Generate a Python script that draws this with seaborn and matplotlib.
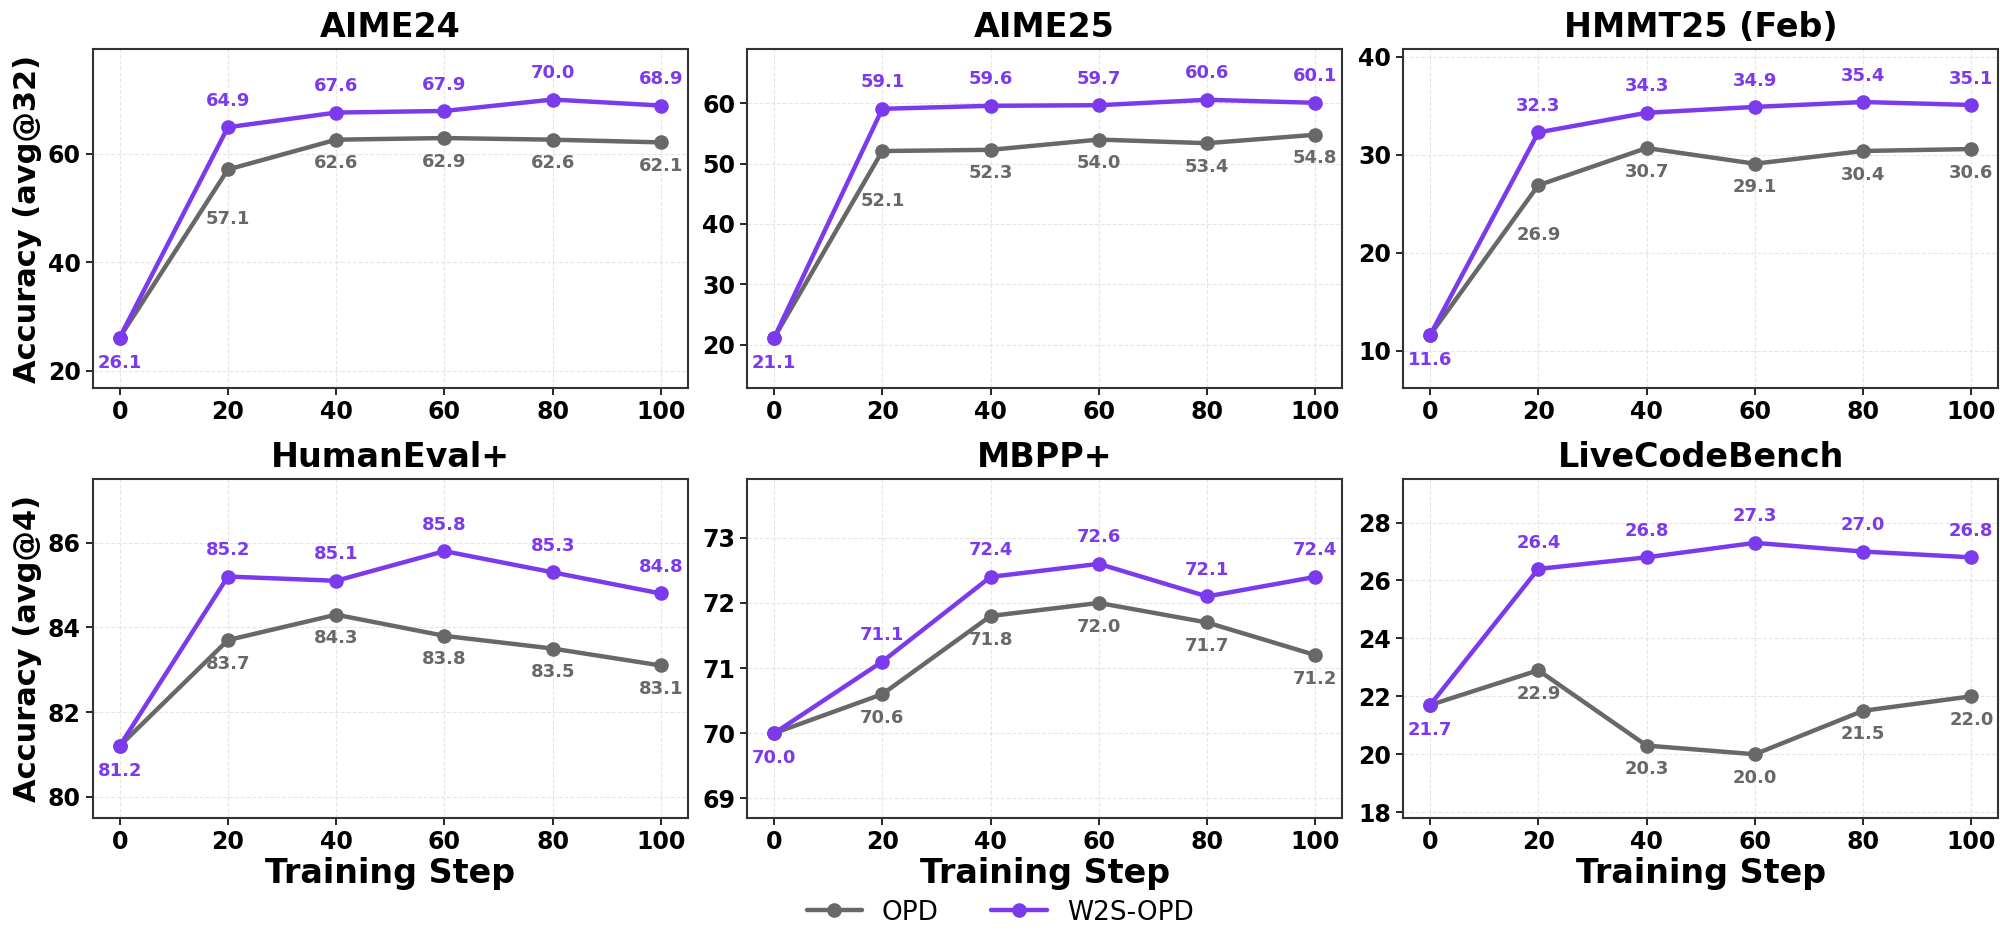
import numpy as np
import pandas as pd
import matplotlib
matplotlib.use("Agg")
import matplotlib.pyplot as plt
import seaborn as sns
from matplotlib.ticker import MultipleLocator

#---- Data ----#
steps = [0, 20, 40, 60, 80, 100]

benchmarks = ["AIME24", "AIME25", "HMMT25 (Feb)", "HumanEval+", "MBPP+", "LiveCodeBench"]

opd_aime24 = [26.1, 57.1, 62.6, 62.9, 62.6, 62.1]
w2s_aime24 = [26.1, 64.9, 67.6, 67.9, 70.0, 68.9]

opd_aime25 = [21.1, 52.1, 52.3, 54.0, 53.4, 54.8]
w2s_aime25 = [21.1, 59.1, 59.6, 59.7, 60.6, 60.1]

opd_hmmt = [11.6, 26.9, 30.7, 29.1, 30.4, 30.6]
w2s_hmmt = [11.6, 32.3, 34.3, 34.9, 35.4, 35.1]

opd_humaneval = [81.2, 83.7, 84.3, 83.8, 83.5, 83.1]
w2s_humaneval = [81.2, 85.2, 85.1, 85.8, 85.3, 84.8]

opd_mbpp = [70.0, 70.6, 71.8, 72.0, 71.7, 71.2]
w2s_mbpp = [70.0, 71.1, 72.4, 72.6, 72.1, 72.4]

opd_lcb = [21.7, 22.9, 20.3, 20.0, 21.5, 22.0]
w2s_lcb = [21.7, 26.4, 26.8, 27.3, 27.0, 26.8]

opd_all = [opd_aime24, opd_aime25, opd_hmmt, opd_humaneval, opd_mbpp, opd_lcb]
w2s_all = [w2s_aime24, w2s_aime25, w2s_hmmt, w2s_humaneval, w2s_mbpp, w2s_lcb]

#---- Styling ----#
c_opd = "#686868"
c_w2s = "#7C3AED"

ylims = [(16.8, 79.3), (12.8, 69.0), (6.2, 40.8), (79.5, 87.5), (68.7, 73.9), (17.8, 29.5)]
ysteps = [20, 10, 10, 2, 1, 2]
# math panels: push the step-20 OPD label further down, clear of the steep purple line
low_first_label = [True, True, True, False, False, False]

sns.set_style("white")
plt.rcParams["font.family"] = ["DejaVu Sans"]
plt.rcParams["text.color"] = "black"
plt.rcParams["axes.labelcolor"] = "black"
plt.rcParams["xtick.color"] = "black"
plt.rcParams["ytick.color"] = "black"

fig, axes = plt.subplots(2, 3, figsize=(20, 9.36), dpi=100)

col_left = [0.0463, 0.3735, 0.7015]
row_bottom = [0.5855, 0.1261]
w, h = 0.2977, 0.3620

for i, ax in enumerate(axes.flat):
    r, c = divmod(i, 3)
    ax.set_position([col_left[c], row_bottom[r], w, h])

    opd = opd_all[i]
    w2s = w2s_all[i]

    sns.lineplot(x=steps, y=opd, ax=ax, color=c_opd, marker="o", markersize=10.5,
                 linewidth=3.2, markeredgecolor=c_opd, markeredgewidth=0, label="OPD", zorder=3)
    sns.lineplot(x=steps, y=w2s, ax=ax, color=c_w2s, marker="o", markersize=10.5,
                 linewidth=3.2, markeredgecolor=c_w2s, markeredgewidth=0, label="W2S-OPD", zorder=4)

    # value labels
    for j, (s, vo, vw) in enumerate(zip(steps, opd, w2s)):
        if j == 0:
            ax.annotate(f"{vw:.1f}", (s, vw), xytext=(0, -18), textcoords="offset points",
                        ha="center", va="center", fontsize=13, fontweight="bold", color=c_w2s, zorder=6)
            continue
        off = -36 if (j == 1 and low_first_label[i]) else -17
        ax.annotate(f"{vo:.1f}", (s, vo), xytext=(0, off), textcoords="offset points",
                    ha="center", va="center", fontsize=13, fontweight="bold", color=c_opd, zorder=6)
        ax.annotate(f"{vw:.1f}", (s, vw), xytext=(0, 19), textcoords="offset points",
                    ha="center", va="center", fontsize=13, fontweight="bold", color=c_w2s, zorder=6)

    ax.set_title(benchmarks[i], fontsize=24, fontweight="bold", pad=9, color="black")
    ax.set_ylim(*ylims[i])
    ax.yaxis.set_major_locator(MultipleLocator(ysteps[i]))
    ax.set_xticks(steps)
    ax.tick_params(axis="both", labelsize=17, length=5, width=1.2, direction="out",
                   left=True, bottom=True, colors="black")
    for lab in ax.get_xticklabels() + ax.get_yticklabels():
        lab.set_fontweight("bold")

    ax.grid(True, linestyle="--", color="#e0e0e0", linewidth=0.8, alpha=0.8)
    ax.set_axisbelow(True)
    for sp in ax.spines.values():
        sp.set_visible(True)
        sp.set_color("#333333")
        sp.set_linewidth(1.5)

    if r == 1:
        ax.set_xlabel("Training Step", fontsize=24, fontweight="bold", labelpad=2)
    else:
        ax.set_xlabel("")

    handles, labels = ax.get_legend_handles_labels()
    ax.get_legend().remove()

axes[0, 0].set_ylabel("Accuracy (avg@32)", fontsize=22, fontweight="bold")
axes[1, 0].set_ylabel("Accuracy (avg@4)", fontsize=22, fontweight="bold")

fig.legend(handles, labels, loc="center", bbox_to_anchor=(0.5, 0.025), ncol=2,
           frameon=False, fontsize=19, handlelength=2.1, handletextpad=0.75,
           columnspacing=2.0)

plt.savefig("out.png", dpi=100)
